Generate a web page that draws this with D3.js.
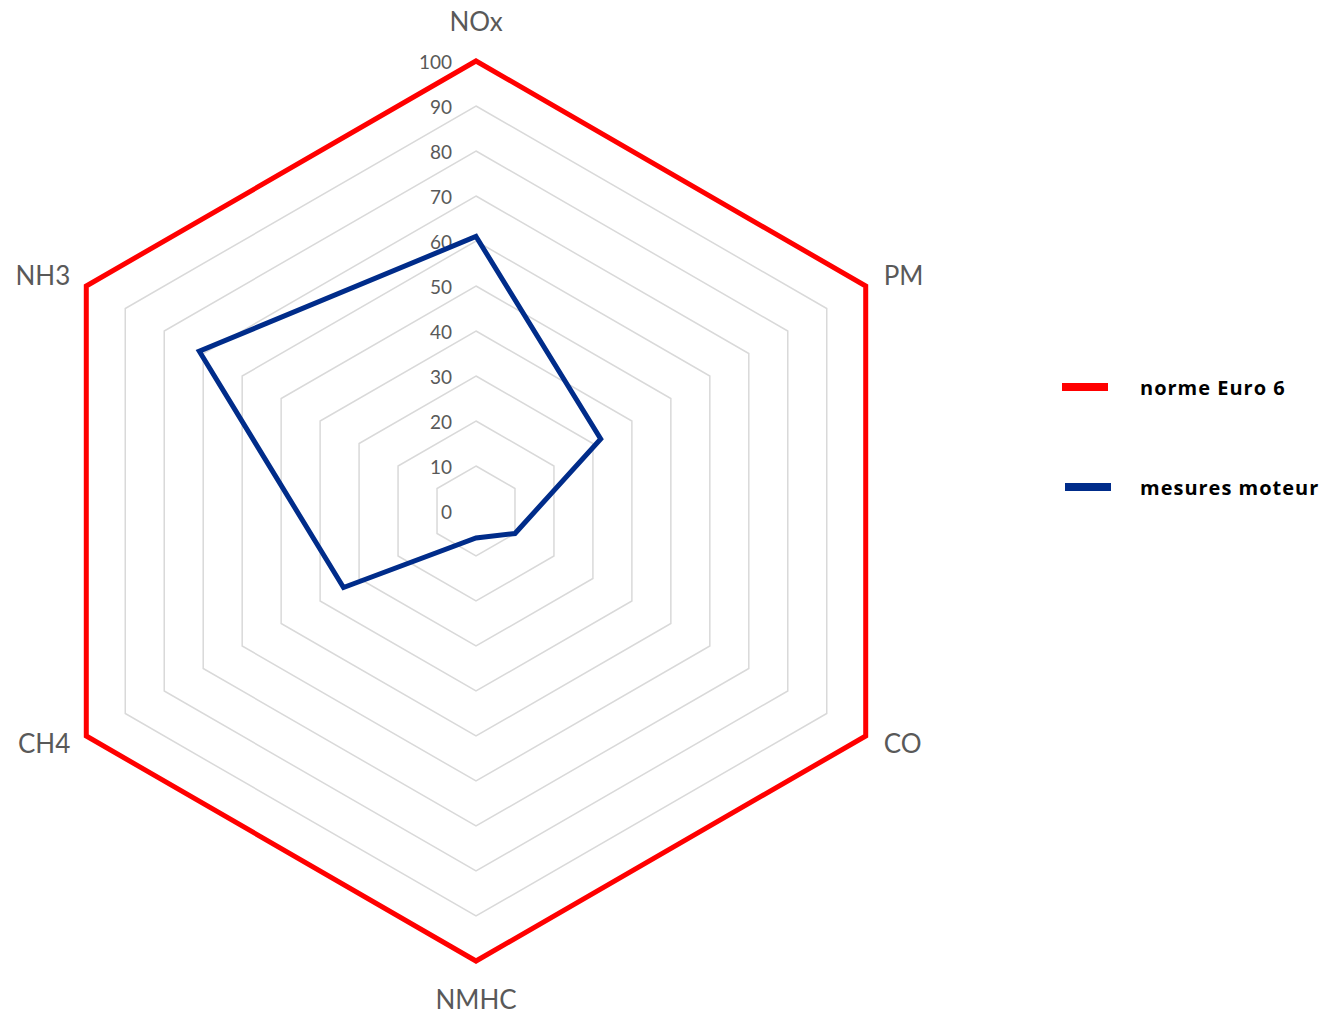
<!DOCTYPE html>
<html><head><meta charset="utf-8">
<script src="https://cdn.jsdelivr.net/npm/d3@7"></script>
<style>body{margin:0;background:#fff}svg{display:block}</style>
</head><body>
<svg id="c" width="1331" height="1016"></svg>
<script>
const categories = ["NOx","PM","CO","NMHC","CH4","NH3"];
const euro6 = [100,100,100,100,100,100];
const moteur = [61,32,10,6,34,71];
const tickValues = [0,10,20,30,40,50,60,70,80,90,100];
const seriesNames = ["norme Euro 6","mesures moteur"];
const colors = ["#ff0000","#002c8a"];

const svg = d3.select("#c");
const cx = 476, cy = 511, R = 450;
const r = d3.scaleLinear().domain([0,100]).range([0,R]);
const ang = d3.scalePoint().domain(categories).range([0, 2*Math.PI*(categories.length-1)/categories.length]);
const pt = (c,v) => [cx + r(v)*Math.sin(ang(c)), cy - r(v)*Math.cos(ang(c))];
const lineGen = d3.line().curve(d3.curveLinearClosed);

const g = svg.append("g");
// grid rings
g.selectAll("path.grid").data(tickValues.filter(t=>t>0 && t<100)).enter().append("path")
  .attr("d", t => lineGen(categories.map(c=>pt(c,t))))
  .attr("fill","none").attr("stroke","#d9d9d9").attr("stroke-width",1.5);

// tick labels
g.selectAll("text.tick").data(tickValues).enter().append("text")
  .attr("x", cx-24).attr("y", t => cy - r(t))
  .attr("text-anchor","end").attr("dominant-baseline","central")
  .attr("font-family","Lato, 'Open Sans', sans-serif").attr("font-size",19).attr("fill","#595959")
  .text(t=>t);

// series
[euro6, moteur].forEach((vals,i)=>{
  g.append("path").attr("d", lineGen(categories.map((c,j)=>pt(c,vals[j]))))
    .attr("fill","none").attr("stroke",colors[i]).attr("stroke-width",5).attr("stroke-linejoin","miter");
});

// category labels
const labelPos = {NOx:[0,-40,"middle"],PM:[18,-11,"start"],CO:[18,7,"start"],NMHC:[0,38,"middle"],CH4:[-16,7,"end"],NH3:[-16,-11,"end"]};
categories.forEach(c=>{
  const [x,y] = pt(c,100);
  const o = labelPos[c];
  g.append("text").attr("x",x+o[0]).attr("y",y+o[1])
    .attr("text-anchor",o[2]).attr("dominant-baseline","central")
    .attr("font-family","Lato, 'Open Sans', sans-serif").attr("font-size",26).attr("fill","#595959")
    .text(c);
});

// legend
const ly = d3.scalePoint().domain(seriesNames).range([387,487]);
seriesNames.forEach((n,i)=>{
  const y = ly(n);
  svg.append("line").attr("x1",1062+i*3).attr("x2",1108+i*3).attr("y1",y).attr("y2",y)
    .attr("stroke",colors[i]).attr("stroke-width",8);
  svg.append("text").attr("x",1140).attr("y",y).attr("dominant-baseline","central")
    .attr("font-family","'Open Sans', Lato, sans-serif").attr("font-weight","bold").attr("font-size",20)
    .attr("letter-spacing",1).attr("fill","#000")
    .text(n);
});
</script>
</body></html>
